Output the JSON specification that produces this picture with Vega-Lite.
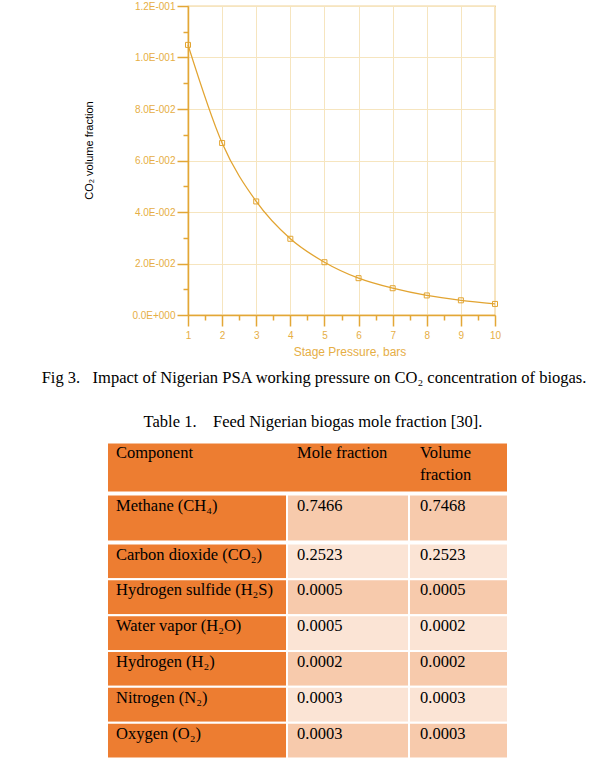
{
  "$schema": "https://vega.github.io/schema/vega-lite/v6.json",
  "background": "white",
  "padding": {"left": 40, "top": 0, "right": 5, "bottom": 5},
  "config": {"view": {"stroke": null}},
  "datasets": {
    "curve": [
      {"pressure": 1, "co2": 0.1049},
      {"pressure": 2, "co2": 0.0668},
      {"pressure": 3, "co2": 0.0441},
      {"pressure": 4, "co2": 0.0296},
      {"pressure": 5, "co2": 0.0205},
      {"pressure": 6, "co2": 0.0143},
      {"pressure": 7, "co2": 0.0104},
      {"pressure": 8, "co2": 0.0076},
      {"pressure": 9, "co2": 0.0057},
      {"pressure": 10, "co2": 0.0043}
    ],
    "header": [
      {"component": "Component", "mole": "Mole fraction", "volume": "Volume fraction"}
    ],
    "table": [
      {"component": "Methane (CH₄)", "mole": 0.7466, "volume": 0.7468},
      {"component": "Carbon dioxide (CO₂)", "mole": 0.2523, "volume": 0.2523},
      {"component": "Hydrogen sulfide (H₂S)", "mole": 0.0005, "volume": 0.0005},
      {"component": "Water vapor (H₂O)", "mole": 0.0005, "volume": 0.0002},
      {"component": "Hydrogen (H₂)", "mole": 0.0002, "volume": 0.0002},
      {"component": "Nitrogen (N₂)", "mole": 0.0003, "volume": 0.0003},
      {"component": "Oxygen (O₂)", "mole": 0.0003, "volume": 0.0003}
    ]
  },
  "spacing": 26.5,
  "vconcat": [
    {
      "width": 307,
      "height": 309,
      "view": {"stroke": "#e3a736", "strokeWidth": 1.2},
      "title": {
        "text": "Fig 3.\u00a0\u00a0 Impact of Nigerian PSA working pressure on CO₂ concentration of biogas.",
        "orient": "bottom", "anchor": "middle", "frame": "group", "dx": -27.5, "offset": 12,
        "font": "Liberation Serif", "fontSize": 16.5, "fontWeight": "normal", "color": "#000000"
      },
      "data": {"name": "curve"},
      "encoding": {
        "x": {
          "field": "pressure", "type": "quantitative",
          "scale": {"domain": [1, 10], "zero": false, "nice": false},
          "axis": {
            "values": [1, 1.5, 2, 2.5, 3, 3.5, 4, 4.5, 5, 5.5, 6, 6.5, 7, 7.5, 8, 8.5, 9, 9.5, 10],
            "labelExpr": "datum.value % 1 === 0 ? format(datum.value, 'd') : ''",
            "labelOverlap": false, "labelFlush": false,
            "labelFont": "Liberation Sans", "labelFontSize": 10, "labelColor": "#e6ae45", "labelPadding": 4,
            "domainColor": "#e3a736", "domainWidth": 1.5,
            "tickColor": "#e3a736", "tickWidth": 1.5,
            "tickSize": {"condition": {"test": "datum.value % 1 !== 0", "value": 5}, "value": 11},
            "grid": true, "gridColor": "#f6e5bf", "gridWidth": 1,
            "gridOpacity": {"condition": {"test": "datum.value % 1 !== 0", "value": 0}, "value": 1},
            "title": "Stage Pressure, bars",
            "titleFont": "Liberation Sans", "titleFontSize": 12, "titleFontWeight": "normal", "titleColor": "#e6ae45",
            "titleX": 161.5, "titleY": 40.7, "titleBaseline": "alphabetic", "titleAlign": "center"
          }
        },
        "y": {
          "field": "co2", "type": "quantitative",
          "scale": {"domain": [0, 0.12], "nice": false},
          "axis": {
            "values": [0, 0.01, 0.02, 0.03, 0.04, 0.05, 0.06, 0.07, 0.08, 0.09, 0.1, 0.11, 0.12],
            "labelExpr": "round(datum.value*100) % 2 === 1 ? '' : (datum.value === 0 ? '0.0E+000' : format(datum.value / pow(10, floor(log(datum.value)/LN10 + 1e-9)), '.1f') + 'E-' + pad(toString(-floor(log(datum.value)/LN10 + 1e-9)), 3, '0', 'left'))",
            "labelOverlap": false, "labelFlush": false,
            "labelFont": "Liberation Sans", "labelFontSize": 10, "labelColor": "#e6ae45", "labelPadding": 2,
            "domainColor": "#e3a736", "domainWidth": 1.5,
            "tickColor": "#e3a736", "tickWidth": 1.5,
            "tickSize": {"condition": {"test": "round(datum.value*100) % 2 === 1", "value": 5}, "value": 11},
            "grid": true, "gridColor": "#f6e5bf", "gridWidth": 1,
            "gridOpacity": {"condition": {"test": "round(datum.value*100) % 2 === 1", "value": 0}, "value": 1},
            "title": "CO₂ volume fraction",
            "titleFont": "Liberation Sans", "titleFontSize": 11, "titleFontWeight": "normal", "titleColor": "#000000",
            "titleX": -94, "titleY": 144, "titleAngle": 270, "titleBaseline": "bottom", "titleAlign": "center"
          }
        }
      },
      "layer": [
        {"mark": {"type": "line", "color": "#e2a431", "strokeWidth": 1.3, "interpolate": "monotone"}},
        {"mark": {"type": "point", "shape": "square", "filled": false, "color": "#e2a431", "size": 25, "strokeWidth": 1, "opacity": 1}}
      ]
    },
    {
      "spacing": 0,
      "vconcat": [
        {
          "width": 320,
          "height": 50,
          "view": {"stroke": null},
          "title": {
            "text": "Table 1.\u00a0\u00a0\u00a0 Feed Nigerian biogas mole fraction [30].",
            "anchor": "middle", "frame": "group", "dx": -35, "offset": 11.5,
            "font": "Liberation Serif", "fontSize": 16.5, "fontWeight": "normal", "color": "#000000"
          },
          "data": {"name": "header"},
          "layer": [
            {
              "mark": {"type": "rect", "fill": "#ed7d31", "stroke": "white", "strokeWidth": 2},
              "encoding": {
                "x": {"datum": 0, "type": "quantitative", "scale": {"domain": [81, 401], "zero": false, "nice": false}, "axis": null},
                "x2": {"datum": 401},
                "y": {"field": "component", "type": "nominal", "axis": null, "scale": {"paddingInner": 0, "paddingOuter": 0}}
              }
            },
            {
              "mark": {"type": "text", "align": "left", "baseline": "top", "dy": 2, "font": "Liberation Serif", "fontSize": 16.5, "color": "#000000"},
              "encoding": {
                "x": {"datum": 9, "type": "quantitative", "scale": {"domain": [81, 401], "zero": false, "nice": false}, "axis": null},
                "y": {"field": "component", "type": "nominal", "axis": null, "bandPosition": 0},
                "text": {"field": "component"}
              }
            },
            {
              "mark": {"type": "text", "align": "left", "baseline": "top", "dy": 2, "font": "Liberation Serif", "fontSize": 16.5, "color": "#000000"},
              "encoding": {
                "x": {"datum": 190, "type": "quantitative", "scale": {"domain": [81, 401], "zero": false, "nice": false}, "axis": null},
                "y": {"field": "component", "type": "nominal", "axis": null, "bandPosition": 0},
                "text": {"field": "mole"}
              }
            },
            {
              "mark": {"type": "text", "align": "left", "baseline": "top", "dy": 2, "lineBreak": " ", "lineHeight": 22, "font": "Liberation Serif", "fontSize": 16.5, "color": "#000000"},
              "encoding": {
                "x": {"datum": 313, "type": "quantitative", "scale": {"domain": [81, 401], "zero": false, "nice": false}, "axis": null},
                "y": {"field": "component", "type": "nominal", "axis": null, "bandPosition": 0},
                "text": {"field": "volume"}
              }
            }
          ]
        },
        {
          "width": 320,
          "height": 47,
          "view": {"stroke": null},
          "data": {"name": "table"},
          "transform": [{"filter": "datum.mole > 0.5"}],
          "layer": [
            {
              "mark": {"type": "rect", "fill": "#ed7d31", "stroke": "white", "strokeWidth": 2},
              "encoding": {
                "x": {"datum": 0, "type": "quantitative", "scale": {"domain": [81, 401], "zero": false, "nice": false}, "axis": null},
                "x2": {"datum": 180},
                "y": {"field": "component", "type": "nominal", "sort": null, "axis": null, "scale": {"paddingInner": 0, "paddingOuter": 0}}
              }
            },
            {
              "mark": {"type": "rect", "stroke": "white", "strokeWidth": 2},
              "encoding": {
                "x": {"datum": 180, "type": "quantitative", "scale": {"domain": [81, 401], "zero": false, "nice": false}, "axis": null},
                "x2": {"datum": 302},
                "y": {"field": "component", "type": "nominal", "sort": null, "axis": null},
                "fill": {"field": "component", "type": "nominal", "legend": null,
                  "scale": {"domain": ["Methane (CH₄)", "Carbon dioxide (CO₂)", "Hydrogen sulfide (H₂S)", "Water vapor (H₂O)", "Hydrogen (H₂)", "Nitrogen (N₂)", "Oxygen (O₂)"],
                            "range": ["#f7caac", "#fbe4d5", "#f7caac", "#fbe4d5", "#f7caac", "#fbe4d5", "#f7caac"]}}
              }
            },
            {
              "mark": {"type": "rect", "stroke": "white", "strokeWidth": 2},
              "encoding": {
                "x": {"datum": 302, "type": "quantitative", "scale": {"domain": [81, 401], "zero": false, "nice": false}, "axis": null},
                "x2": {"datum": 401},
                "y": {"field": "component", "type": "nominal", "sort": null, "axis": null},
                "fill": {"field": "component", "type": "nominal", "legend": null}
              }
            },
            {
              "mark": {"type": "text", "align": "left", "baseline": "top", "dy": 3, "font": "Liberation Serif", "fontSize": 16.5, "color": "#000000"},
              "encoding": {
                "x": {"datum": 9, "type": "quantitative", "scale": {"domain": [81, 401], "zero": false, "nice": false}, "axis": null},
                "y": {"field": "component", "type": "nominal", "sort": null, "axis": null, "bandPosition": 0},
                "text": {"field": "component"}
              }
            },
            {
              "mark": {"type": "text", "align": "left", "baseline": "top", "dy": 3, "font": "Liberation Serif", "fontSize": 16.5, "color": "#000000"},
              "encoding": {
                "x": {"datum": 190, "type": "quantitative", "scale": {"domain": [81, 401], "zero": false, "nice": false}, "axis": null},
                "y": {"field": "component", "type": "nominal", "sort": null, "axis": null, "bandPosition": 0},
                "text": {"field": "mole", "type": "quantitative", "format": ".4f"}
              }
            },
            {
              "mark": {"type": "text", "align": "left", "baseline": "top", "dy": 3, "font": "Liberation Serif", "fontSize": 16.5, "color": "#000000"},
              "encoding": {
                "x": {"datum": 313, "type": "quantitative", "scale": {"domain": [81, 401], "zero": false, "nice": false}, "axis": null},
                "y": {"field": "component", "type": "nominal", "sort": null, "axis": null, "bandPosition": 0},
                "text": {"field": "volume", "type": "quantitative", "format": ".4f"}
              }
            }
          ]
        },
        {
          "width": 320,
          "height": 215,
          "view": {"stroke": null},
          "data": {"name": "table"},
          "transform": [{"filter": "datum.mole <= 0.5"}],
          "layer": [
            {
              "mark": {"type": "rect", "fill": "#ed7d31", "stroke": "white", "strokeWidth": 2},
              "encoding": {
                "x": {"datum": 0, "type": "quantitative", "scale": {"domain": [81, 401], "zero": false, "nice": false}, "axis": null},
                "x2": {"datum": 180},
                "y": {"field": "component", "type": "nominal", "sort": null, "axis": null, "scale": {"paddingInner": 0, "paddingOuter": 0}}
              }
            },
            {
              "mark": {"type": "rect", "stroke": "white", "strokeWidth": 2},
              "encoding": {
                "x": {"datum": 180, "type": "quantitative", "scale": {"domain": [81, 401], "zero": false, "nice": false}, "axis": null},
                "x2": {"datum": 302},
                "y": {"field": "component", "type": "nominal", "sort": null, "axis": null},
                "fill": {"field": "component", "type": "nominal", "legend": null}
              }
            },
            {
              "mark": {"type": "rect", "stroke": "white", "strokeWidth": 2},
              "encoding": {
                "x": {"datum": 302, "type": "quantitative", "scale": {"domain": [81, 401], "zero": false, "nice": false}, "axis": null},
                "x2": {"datum": 401},
                "y": {"field": "component", "type": "nominal", "sort": null, "axis": null},
                "fill": {"field": "component", "type": "nominal", "legend": null}
              }
            },
            {
              "mark": {"type": "text", "align": "left", "baseline": "top", "dy": 3, "font": "Liberation Serif", "fontSize": 16.5, "color": "#000000"},
              "encoding": {
                "x": {"datum": 9, "type": "quantitative", "scale": {"domain": [81, 401], "zero": false, "nice": false}, "axis": null},
                "y": {"field": "component", "type": "nominal", "sort": null, "axis": null, "bandPosition": 0},
                "text": {"field": "component"}
              }
            },
            {
              "mark": {"type": "text", "align": "left", "baseline": "top", "dy": 3, "font": "Liberation Serif", "fontSize": 16.5, "color": "#000000"},
              "encoding": {
                "x": {"datum": 190, "type": "quantitative", "scale": {"domain": [81, 401], "zero": false, "nice": false}, "axis": null},
                "y": {"field": "component", "type": "nominal", "sort": null, "axis": null, "bandPosition": 0},
                "text": {"field": "mole", "type": "quantitative", "format": ".4f"}
              }
            },
            {
              "mark": {"type": "text", "align": "left", "baseline": "top", "dy": 3, "font": "Liberation Serif", "fontSize": 16.5, "color": "#000000"},
              "encoding": {
                "x": {"datum": 313, "type": "quantitative", "scale": {"domain": [81, 401], "zero": false, "nice": false}, "axis": null},
                "y": {"field": "component", "type": "nominal", "sort": null, "axis": null, "bandPosition": 0},
                "text": {"field": "volume", "type": "quantitative", "format": ".4f"}
              }
            }
          ]
        }
      ]
    }
  ]
}
